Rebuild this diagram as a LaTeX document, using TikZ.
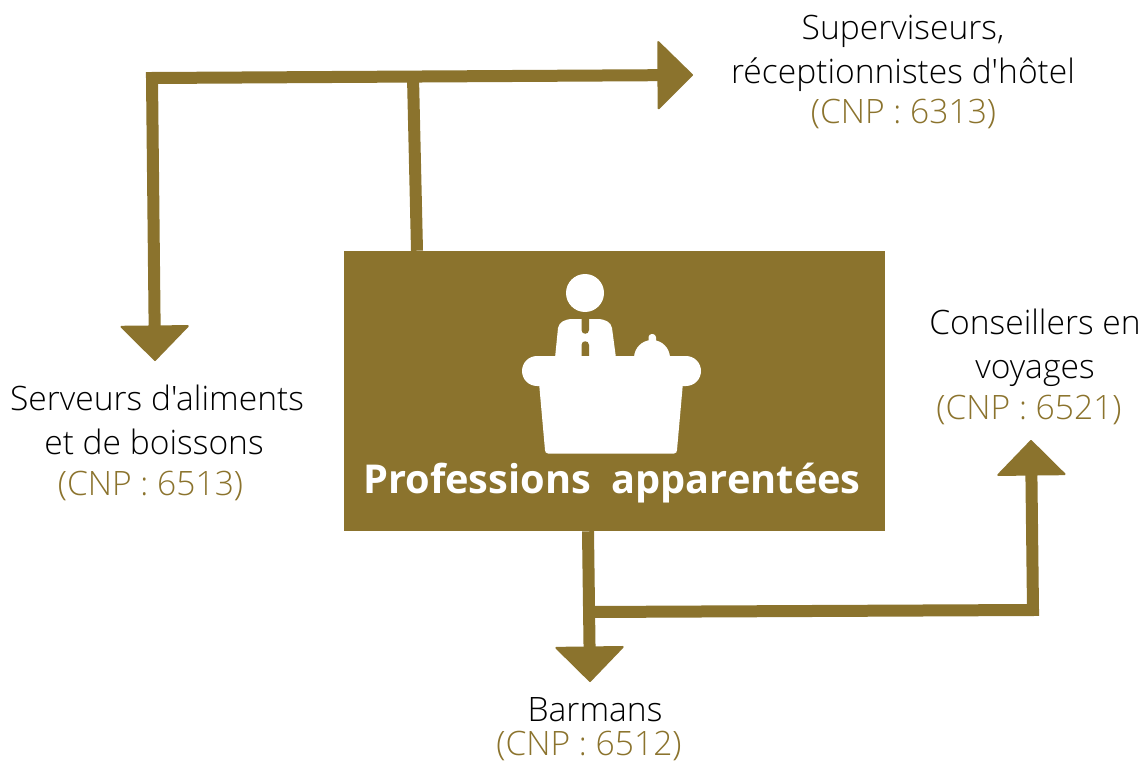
\documentclass[tikz,border=0pt]{standalone}
\usepackage{fontspec}
\setmainfont{Open Sans Light}[BoldFont={Open Sans Bold},Ligatures=TeXOff]
\usetikzlibrary{calc}
\usetikzlibrary{arrows.meta}
\definecolor{olive}{RGB}{139,115,45}
\tikzset{
  job/.style={font=\fontsize{25.2}{25.2}\selectfont,inner sep=0pt,anchor=base,text=black},
  code/.style={font=\fontsize{25.2}{25.2}\selectfont,inner sep=0pt,anchor=base,text=olive},
  link/.style={draw=olive,line width=9pt,>={Triangle[width=53pt,length=27pt,round,line width=1.5pt]}}
}

\begin{document}
\begin{tikzpicture}[x=0.75pt,y=-0.75pt]
  \useasboundingbox (0,0) rectangle (1143,763);
  \node [fill=olive,minimum width=405.75pt,minimum height=210pt,inner sep=0pt] (box) at (614.5,391) {};
  \node [font=\fontsize{29.8}{29.8}\selectfont\bfseries,text=white,inner sep=0pt,anchor=base] (title) at (612,493) {Professions\ \ apparentées};
  % upper connectors
  \coordinate (super) at (693,75);
  \coordinate (corner) at (152,78);
  \coordinate (serv) at (155,361);
  \coordinate (stem) at (413,77);
  \draw [link,<->] (super) -- (corner) -- (serv);
  \draw [link] ($ (box.north)+(-197.5,0) $) -- (stem);
  % lower connectors
  \coordinate (bar) at (590,682);
  \coordinate (fork) at (590,612);
  \coordinate (elbow) at (1033,610);
  \coordinate (cons) at (1031,440);
  \draw [link,->] ($ (box.south)+(-26.5,0) $) -- (bar);
  \draw [link,->] (fork) -- (elbow) -- (cons);
  % desk icon
  \fill [white] (585,293) circle [radius=19];
  \fill [white] (555,358) -- (558,328) .. controls (559,322) and (565,319) .. (573,319) -- (597,319) .. controls (605,319) and (611,322) .. (612,328) -- (616,358) -- cycle;
  \fill [olive] (581.5,319) -- (589,319) -- (589,330) .. controls (589,335) and (581.5,335) .. (581.5,330) -- cycle;
  \fill [olive] (581.5,357) -- (589,357) -- (589,345) .. controls (589,340) and (581.5,340) .. (581.5,345) -- cycle;
  \fill [white] (537,360) -- (685,360) -- (677,450) .. controls (677,452) and (676,453.5) .. (674,453.5) -- (548,453.5) .. controls (546,453.5) and (545,452) .. (545,450) -- cycle;
  \fill [white,rounded corners=11.25pt] (522,356) rectangle (701,386);
  \fill [white] (634,358) arc [start angle=180,end angle=360,radius=18] -- cycle;
  \fill [white,rounded corners=2.5pt] (648.5,334) rectangle (656,345);
  % labels
  \node [job] (n1) at (903,40) {Superviseurs,};
  \node [job] (n2) at (903,84) {réceptionnistes d'hôtel};
  \node [code] (c1) at (903.5,124) {(CNP : 6313)};
  \node [job] (n3) at (157,410) {Serveurs d'aliments};
  \node [job] (n4) at (154,454) {et de boissons};
  \node [code] (c2) at (150.5,495) {(CNP : 6513)};
  \node [job] (n5) at (1035,334) {Conseillers en};
  \node [job] (n6) at (1035,378) {voyages};
  \node [code] (c3) at (1029,419) {(CNP : 6521)};
  \node [job] (n7) at (595,721) {Barmans};
  \node [code] (c4) at (589,755) {(CNP : 6512)};
\end{tikzpicture}
\end{document}
